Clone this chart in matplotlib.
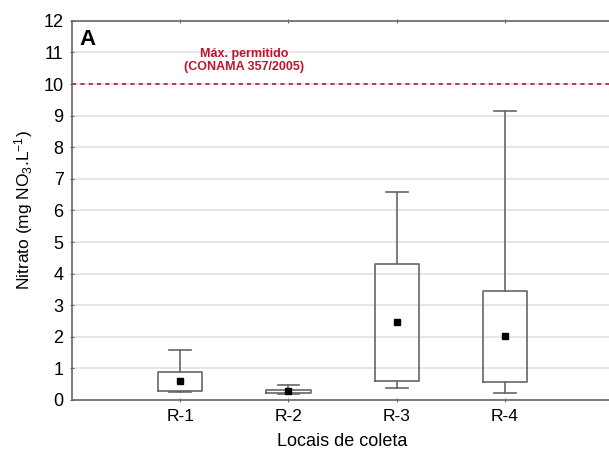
import matplotlib.pyplot as plt

plt.rcParams["font.family"] = ["Liberation Sans", "DejaVu Sans"]
plt.rcParams["mathtext.fontset"] = "custom"
plt.rcParams["mathtext.rm"] = "Liberation Sans"
plt.rcParams["mathtext.it"] = "Liberation Sans:italic"

# values (Statistica style: median, 25-75%, min-max)
sites = ["R-1", "R-2", "R-3", "R-4"]
whisker_low = [0.25, 0.20, 0.37, 0.23]
q1 = [0.29, 0.22, 0.61, 0.58]
median = [0.60, 0.27, 2.48, 2.03]
q3 = [0.88, 0.30, 4.30, 3.45]
whisker_high = [1.58, 0.46, 6.59, 9.15]
limit_value = 10
limit_text = "Máx. permitido\n(CONAMA 357/2005)"
yticks = list(range(0, 13))

edge = "#666666"
red = "#c0142c"

fig = plt.figure(figsize=(6.09, 4.54), dpi=100)
ax = fig.add_axes([0.118, 0.119, 0.889, 0.835])

stats = []
for i, name in enumerate(sites):
    stats.append({
        "label": name,
        "whislo": whisker_low[i],
        "q1": q1[i],
        "med": median[i],
        "q3": q3[i],
        "whishi": whisker_high[i],
        "fliers": [],
    })

positions = list(range(1, len(sites) + 1))
ax.bxp(
    stats,
    positions=positions,
    widths=0.41,
    showfliers=False,
    boxprops=dict(color=edge, linewidth=1.2),
    whiskerprops=dict(color=edge, linewidth=1.2),
    capprops=dict(color=edge, linewidth=1.2),
    medianprops=dict(linewidth=0),
    capwidths=0.2,
)
ax.plot(positions, median, "s", color="black", markersize=5, zorder=5)

ax.axhline(limit_value, color=red, linestyle=(0, (2.5, 2.5)), linewidth=1.2)
ax.text(1.59, 10.74, limit_text, color=red, fontsize=9,
        fontweight="bold", ha="center", va="center", linespacing=1.15)
ax.text(0.074, 11.4, "A", fontsize=16, fontweight="bold", ha="left", va="center")

ax.set_xlim(0, 5)
ax.set_ylim(0, 12)
ax.set_yticks(yticks)
ax.set_xticks(positions)
ax.set_xticklabels(sites)
ax.yaxis.grid(True, color="#e2e2e2", linewidth=1.2)
ax.set_axisbelow(True)

for side in ["left", "top", "bottom"]:
    ax.spines[side].set_color(edge)
    ax.spines[side].set_linewidth(1.2)
ax.spines["right"].set_visible(False)
ax.tick_params(axis="both", direction="inout", length=3, color=edge, top=True)
ax.tick_params(axis="y", labelsize=13, pad=4.5)
ax.tick_params(axis="x", labelsize=12.5, pad=5)

ax.set_ylabel("Nitrato (mg NO$_3$.L$^{-1}$)", fontsize=12.5, labelpad=6)
ax.set_xlabel("Locais de coleta", fontsize=13, labelpad=6.5)

fig.savefig("out.png", dpi=100)
